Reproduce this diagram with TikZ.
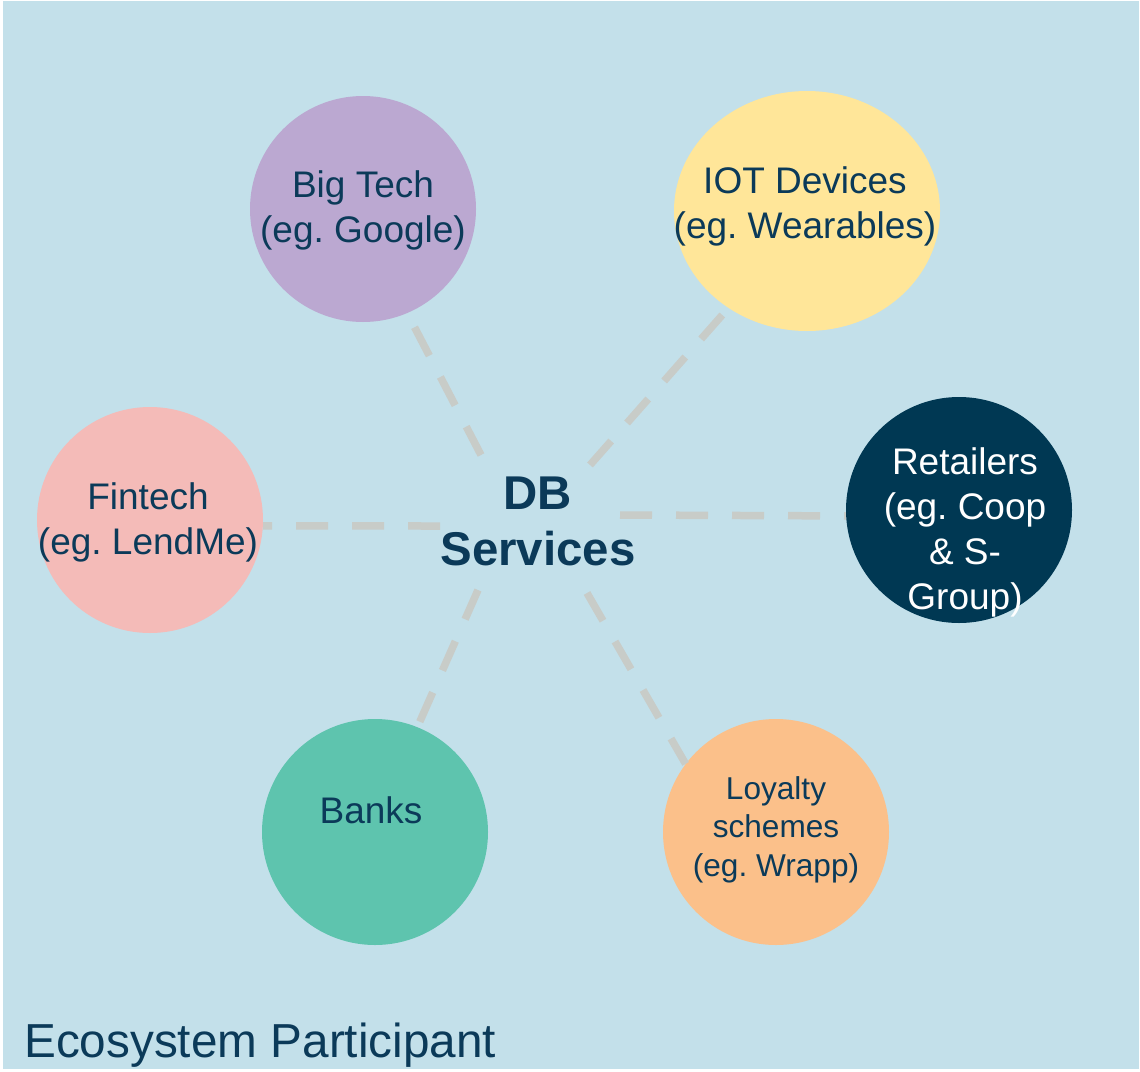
\documentclass[tikz,border=0pt]{standalone}
\usepackage{fontspec}
\setmainfont{Liberation Sans}
\usetikzlibrary{shapes.geometric}
\frenchspacing
\definecolor{bgblue}{HTML}{C3E0EA}
\definecolor{navy}{HTML}{0B3A59}
\definecolor{darknavy}{HTML}{003853}
\definecolor{dashgrey}{HTML}{C8CCC8}
\definecolor{lilac}{HTML}{BBA8D1}
\definecolor{butter}{HTML}{FFE699}
\definecolor{blush}{HTML}{F4BBB8}
\definecolor{teal}{HTML}{5EC4AE}
\definecolor{apricot}{HTML}{FBC08A}
\tikzset{
  bubble/.style={circle, minimum size=226pt, inner sep=0pt, draw=none, fill=#1},
  spoke/.style={draw=dashgrey, line width=7.5pt, dash pattern=on 32pt off 24pt},
  lbl/.style={align=center, text=navy, inner sep=0pt,
    font=\fontsize{37}{45}\selectfont},
}
\begin{document}
\begin{tikzpicture}[x=1pt, y=-1pt]
  % canvas
  \fill[white] (0,0) rectangle (1140,1071);
  \fill[bgblue] (3,1) rectangle (1139,1069);
  \useasboundingbox (0,0) rectangle (1140,1071);

  % participants
  \node[bubble=lilac] (bigtech) at (363,209) {};
  \node[ellipse, minimum width=266pt, minimum height=240pt, inner sep=0pt, fill=butter] (iot) at (807,211) {};
  \node[bubble=blush] (fintech) at (150,520) {};
  \node[bubble=darknavy] (retail) at (959,510) {};
  \node[bubble=teal] (banks) at (375,832) {};
  \node[bubble=apricot] (loyal) at (776,832) {};

  % inner ends of the spokes around the hub label
  \coordinate (hBT) at (481,455);
  \coordinate (hIOT) at (590,465);
  \coordinate (hF) at (440,526);
  \coordinate (hR) at (620,515);
  \coordinate (hB) at (478,590);
  \coordinate (hL) at (587,593);

  % dashed spokes
  \draw[spoke] (hBT) -- (bigtech.-67);
  \draw[spoke] (hIOT) -- (iot.-129);
  \draw[spoke] (hF) -- (fintech.-3);
  \draw[spoke] (hR) -- (retail.-177.5);
  \draw[spoke] (hB) -- (banks.68.5);
  \draw[spoke] (hL) -- (loyal.143.6);

  % hub
  \node[align=center, text=navy, inner sep=0pt, font=\fontsize{47.4}{56}\selectfont\bfseries] (hub) at (538,521.5) {DB\\Services};

  % labels
  \node[lbl] (tBT) at (363,210.5) {Big Tech\\(eg. Google)};
  \node[lbl] (tIOT) at (805,206.5) {IOT Devices\\(eg. Wearables)};
  \node[lbl] (tF) at (148,522.5) {Fintech\\(eg. LendMe)};
  \node[lbl, text=white] (tR) at (965,532.5) {Retailers\\(eg. Coop\\\& S-\\Group)};
  \node[lbl] (tB) at (371,810) {Banks};
  \node[lbl, font=\fontsize{31.6}{38.5}\selectfont] (tL) at (776,829.5) {Loyalty\\schemes\\(eg. Wrapp)};

  % caption
  \node[anchor=base west, inner sep=0pt, text=navy, font=\fontsize{47.7}{56}\selectfont] (cap) at (24,1057) {Ecosystem Participant};
\end{tikzpicture}
\end{document}
